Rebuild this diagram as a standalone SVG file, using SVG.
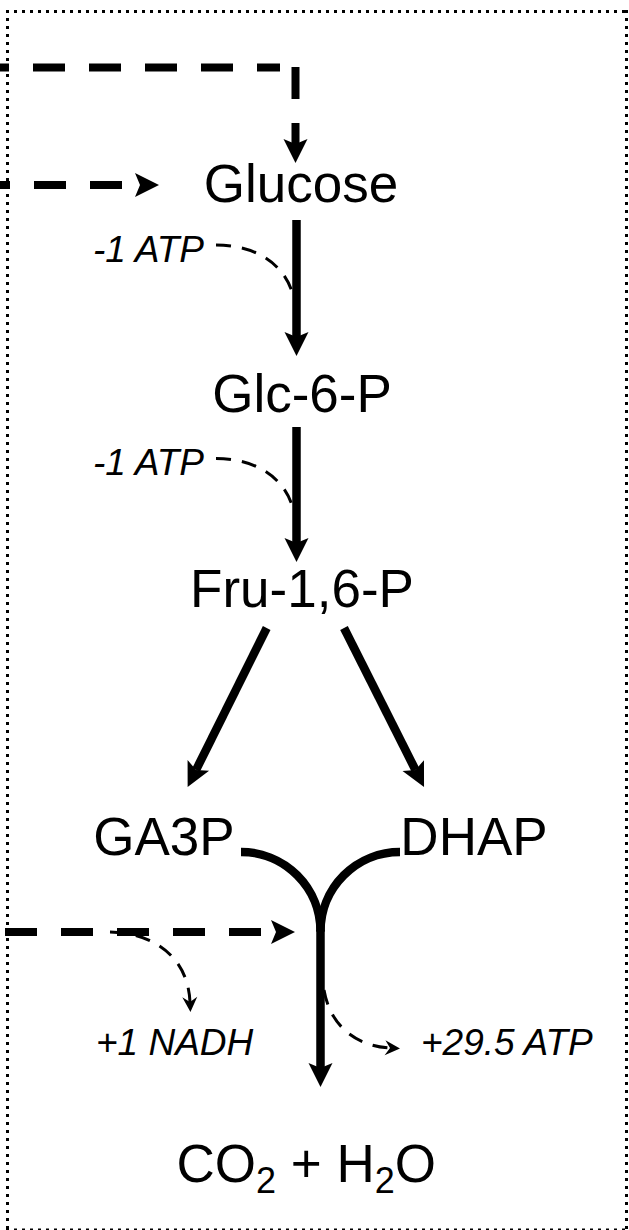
<svg xmlns="http://www.w3.org/2000/svg" width="629" height="1230" viewBox="0 0 629 1230">
<style>
.node{font-family:"Liberation Sans",Arial,sans-serif;font-size:53px;fill:#000}
.lbl{font-family:"Liberation Sans",Arial,sans-serif;font-size:37px;font-style:italic;fill:#000}
.border{fill:none;stroke:#000;stroke-width:3;stroke-dasharray:3 5}
.thick{fill:none;stroke:#000;stroke-width:8.5}
.dash{fill:none;stroke:#000;stroke-width:8;stroke-dasharray:32 24}
.thin{fill:none;stroke:#000;stroke-width:3;stroke-dasharray:15 11}
</style>
<defs>
<marker id="big" markerUnits="userSpaceOnUse" orient="auto" markerWidth="60" markerHeight="60" refX="0" refY="0" viewBox="-30 -30 60 60" overflow="visible">
<path d="M19,0 L-5,-12 L0,0 L-5,12 Z" fill="#000"/>
</marker>
<marker id="small" markerUnits="userSpaceOnUse" orient="auto" markerWidth="40" markerHeight="40" refX="0" refY="0" viewBox="-20 -20 40 40" overflow="visible">
<path d="M10,0 L-5,-7.5 L0,0 L-5,7.5 Z" fill="#000"/>
</marker>
</defs>
<rect width="629" height="1230" fill="#fff"/>
<g id="frame">
<line class="border" x1="6" y1="11.5" x2="629" y2="11.5"/>
<line class="border" x1="7.5" y1="10" x2="7.5" y2="1230"/>
<line class="border" x1="626.5" y1="10" x2="626.5" y2="1230"/>
<line class="border" x1="6" y1="1230" x2="629" y2="1230"/>
</g>
<g id="connectors">
<path class="dash" d="M0,67.5 H280" stroke-dashoffset="23"/>
<path class="dash" d="M295.5,67 V144" marker-end="url(#big)"/>
<path class="dash" d="M0,185 H140" stroke-dashoffset="22" marker-end="url(#big)"/>
<path class="thick" d="M296.5,220 V337" marker-end="url(#big)"/>
<path class="thin" d="M216,245 C258,245 287,266 294,299"/>
<path class="thick" d="M296.5,427 V543" marker-end="url(#big)"/>
<path class="thin" d="M216,458.5 C258,458.5 287,479.5 294,512.5"/>
<path class="thick" d="M266.7,628 L196.1,769.9" marker-end="url(#big)"/>
<path class="thick" d="M344,628 L415.5,770" marker-end="url(#big)"/>
<path class="thick" d="M241,852 A79.5,79.5 0 0 1 320.5,931.5"/>
<path class="thick" d="M400,852 A79.5,79.5 0 0 0 320.5,931.5"/>
<path class="thick" d="M320.5,930 V1068" marker-end="url(#big)"/>
<path class="dash" d="M5,932 H276" marker-end="url(#big)"/>
<path class="thin" d="M110,932 C155,933 188,958 190,1002" marker-end="url(#small)"/>
<path class="thin" d="M324,990 C330,1025 355,1046 390,1048" marker-end="url(#small)"/>
</g>
<g id="glucose"><text class="node" x="301" y="202" text-anchor="middle">Glucose</text></g>
<g id="glc6p"><text class="node" x="302" y="411.5" text-anchor="middle">Glc-6-P</text></g>
<g id="fru16p"><text class="node" x="302" y="606.5" text-anchor="middle">Fru-1,6-P</text></g>
<g id="ga3p"><text class="node" x="164" y="855" text-anchor="middle">GA3P</text></g>
<g id="dhap"><text class="node" x="474" y="855" text-anchor="middle">DHAP</text></g>
<g id="co2h2o"><text class="node" x="176.5" y="1182">CO<tspan font-size="36" dy="11">2</tspan><tspan dy="-11"> + H</tspan><tspan font-size="36" dy="11">2</tspan><tspan dy="-11">O</tspan></text></g>
<g id="atp1"><text class="lbl" x="93" y="261.5">-1 ATP</text></g>
<g id="atp2"><text class="lbl" x="93" y="475">-1 ATP</text></g>
<g id="nadh"><text class="lbl" x="96" y="1055">+1 NADH</text></g>
<g id="atp3"><text class="lbl" x="421" y="1055">+29.5 ATP</text></g>
</svg>
